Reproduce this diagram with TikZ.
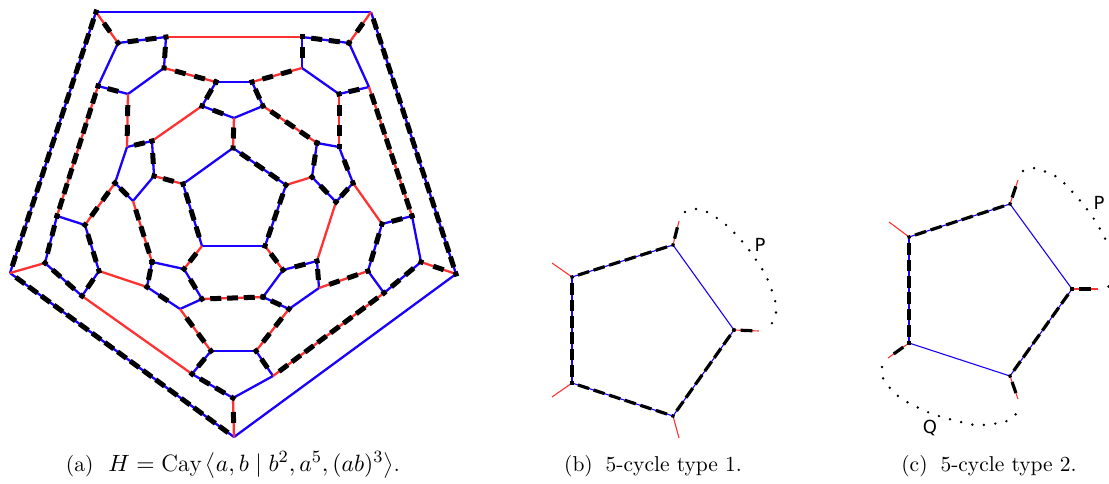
\documentclass[tikz,border=0pt]{standalone}
\usepackage{fontspec}
\usetikzlibrary{decorations}
\newfontfamily\dejavu{DejaVu Sans}
\definecolor{myblue}{RGB}{25,0,255}
\definecolor{myred}{RGB}{255,50,50}
\begin{document}
\begin{tikzpicture}[x=1pt,y=-1pt,
  bl/.style={draw=myblue,line width=2.3pt},
  rdd/.style={draw=myred,line width=2.3pt},
  hc/.style={draw=black,line width=5pt,line cap=rect,dash pattern=on 6pt off 9.5pt,dash expand off},
  thinb/.style={draw=myblue,line width=1.1pt},
  thinr/.style={draw=myred,line width=1.1pt},
  hcs/.style={draw=black,line width=3.2pt,line cap=rect,dash pattern=on 8.5pt off 7pt,dash expand off},
  hdots/.style={draw=black,line width=2.7pt,line cap=round,dash pattern=on 0pt off 11.5pt},
  lab/.style={font=\dejavu\fontsize{18}{20}\selectfont,inner sep=0pt},
  capt/.style={font=\fontsize{10}{12}\selectfont,scale=2.15,anchor=base,inner sep=0pt}]
\useasboundingbox (0,0) rectangle (1109,484);
% ---------- (a) vertices ----------
\coordinate (o1) at (96,12);   \coordinate (o2) at (371,12);
\coordinate (o3) at (456,274); \coordinate (o4) at (234,437);
\coordinate (o5) at (10,273);
\coordinate (p1a) at (118,43); \coordinate (p1b) at (166,37);
\coordinate (p1c) at (164,68); \coordinate (p1d) at (128,94);
\coordinate (p1e) at (98,86);
\coordinate (p2a) at (302,37); \coordinate (p2b) at (349,43);
\coordinate (p2c) at (369,87); \coordinate (p2d) at (339,94);
\coordinate (p2e) at (302,68);
\coordinate (ta) at (216,82);  \coordinate (tb) at (252,82);
\coordinate (tc) at (263,106); \coordinate (td) at (234,118);
\coordinate (te) at (202,106);
\coordinate (ua) at (317,143); \coordinate (ub) at (339,147);
\coordinate (uc) at (353,183); \coordinate (ud) at (336,202);
\coordinate (ue) at (312,177);
\coordinate (ca) at (233,148); \coordinate (cb) at (286,185);
\coordinate (cc) at (265,246); \coordinate (cd) at (202,246);
\coordinate (ce) at (183,184);
\coordinate (la) at (127,147); \coordinate (lb) at (152,141);
\coordinate (lc) at (154,176); \coordinate (ld) at (133,201);
\coordinate (le) at (115,183);
\coordinate (ka) at (57,216);  \coordinate (kb) at (85,225);
\coordinate (kc) at (99,271);  \coordinate (kd) at (82,296);
\coordinate (ke) at (45,263);
\coordinate (ma) at (152,262); \coordinate (mb) at (184,269);
\coordinate (mc) at (202,299); \coordinate (md) at (180,309);
\coordinate (me) at (147,287);
\coordinate (ba) at (233,398); \coordinate (bb) at (273,376);
\coordinate (bc) at (256,351); \coordinate (bd) at (211,351);
\coordinate (be) at (192,374);
\coordinate (ra) at (283,270); \coordinate (rb) at (317,261);
\coordinate (rc) at (319,288); \coordinate (rd) at (289,309);
\coordinate (re) at (263,297);
\coordinate (sa) at (382,224); \coordinate (sb) at (412,216);
\coordinate (sc) at (421,262); \coordinate (sd) at (384,293);
\coordinate (se) at (368,271);
% blue edges
\foreach \u/\v in {o1/o2,o2/o3,o3/o4,o4/o5,o5/o1,
  p1a/p1b,p1b/p1c,p1c/p1d,p1d/p1e,p1e/p1a,
  p2a/p2b,p2b/p2c,p2c/p2d,p2d/p2e,p2e/p2a,
  ta/tb,tb/tc,tc/td,td/te,te/ta,
  ua/ub,ub/uc,uc/ud,ud/ue,ue/ua,
  ca/cb,cb/cc,cc/cd,cd/ce,ce/ca,
  la/lb,lb/lc,lc/ld,ld/le,le/la,
  ka/kb,kb/kc,kc/kd,kd/ke,ke/ka,
  ma/mb,mb/mc,mc/md,md/me,me/ma,
  ba/bb,bb/bc,bc/bd,bd/be,be/ba,
  ra/rb,rb/rc,rc/rd,rd/re,re/ra,
  sa/sb,sb/sc,sc/sd,sd/se,se/sa}
  \draw[bl] (\u) -- (\v);
% red edges
\foreach \u/\v in {o1/p1a,o2/p2b,o3/sc,o4/ba,o5/ke,
  p1b/p2a,p1c/ta,p1d/la,p1e/ka,
  p2c/sb,p2d/ub,p2e/tb,
  tc/ua,td/ca,te/lb,
  uc/sa,ud/rb,ue/cb,
  cc/ra,cd/mb,ce/lc,
  ld/ma,le/kb,kc/me,kd/be,
  mc/re,md/bd,bb/sd,bc/rd,rc/se}
  \draw[rdd] (\u) -- (\v);
% dashed cycle
\foreach \u/\v in {o2/o3,o4/o5,o5/o1,o1/p1a,o2/p2b,o3/sc,o4/ba,
  p1a/p1b,p1b/p1c,p1d/p1e,p1c/ta,p1d/la,p1e/ka,
  p2a/p2b,p2c/p2d,p2e/p2a,p2c/sb,p2d/ub,p2e/tb,
  tb/tc,td/te,te/ta,tc/ua,td/ca,
  ub/uc,uc/ud,ud/ue,ue/ua,
  ca/cb,cb/cc,cd/ce,cc/ra,cd/mb,ce/lc,
  la/lb,lb/lc,ld/le,ld/ma,le/kb,
  kb/kc,kc/kd,kd/ke,ke/ka,
  mb/mc,md/me,me/ma,mc/re,md/bd,
  bb/bc,bd/be,be/ba,bb/sd,bc/rd,
  ra/rb,rb/rc,rd/re,rc/se,
  sa/sb,sc/sd,se/sa}
  \draw[hc] (\u) -- (\v);
% ---------- (b) ----------
\coordinate (v1) at (673,245); \coordinate (v2) at (572,277);
\coordinate (v3) at (572,383); \coordinate (v4) at (673,416);
\coordinate (v5) at (734,330);
\coordinate (x1) at (679,221); \coordinate (x2) at (552,263);
\coordinate (x3) at (552,397); \coordinate (x4) at (679,438);
\coordinate (x5) at (759,331);
\foreach \u/\v in {v1/v2,v2/v3,v3/v4,v4/v5,v5/v1} \draw[thinb] (\u) -- (\v);
\foreach \u/\v in {v1/x1,v2/x2,v3/x3,v4/x4,v5/x5} \draw[thinr] (\u) -- (\v);
\foreach \u/\v in {v1/v2,v2/v3,v3/v4,v4/v5,x1/v1,x5/v5} \draw[hcs] (\u) -- (\v);
\draw[hdots] plot[smooth,tension=0.6] coordinates {(685,212) (696,209) (707,212) (725,224) (741,240) (754,257) (766,276) (774,297) (776,307) (775,318) (769,327)};
\node[lab] (pb) at (760,245) {P};
% ---------- (c) ----------
\coordinate (w1) at (1010,204); \coordinate (w2) at (909,237);
\coordinate (w3) at (909,343);  \coordinate (w4) at (1010,376);
\coordinate (w5) at (1072,289);
\coordinate (y1) at (1018,180); \coordinate (y2) at (889,222);
\coordinate (y3) at (888,358);  \coordinate (y4) at (1018,399);
\coordinate (y5) at (1098,289);
\foreach \u/\v in {w1/w2,w2/w3,w3/w4,w4/w5,w5/w1} \draw[thinb] (\u) -- (\v);
\foreach \u/\v in {w1/y1,w2/y2,w3/y3,w4/y4,w5/y5} \draw[thinr] (\u) -- (\v);
\foreach \u/\v in {w1/w2,w2/w3,w4/w5,y1/w1,y3/w3,y4/w4,y5/w5} \draw[hcs] (\u) -- (\v);
\begin{scope}
\clip (0,0) rectangle (1109,484);
\draw[hdots] plot[smooth,tension=0.6] coordinates {(1023,171) (1035,168) (1046,172) (1057,177) (1066,185) (1082,203) (1096,222) (1107,242) (1122,265) (1108,287)};
\end{scope}
\draw[hdots] plot[smooth,tension=0.6] coordinates {(882,367) (883,378) (890,388) (898,396) (909,403) (930,413) (953,420) (976,425) (999,423) (1011,419) (1018,411)};
\node[lab] (pc) at (1099,203) {P};
\node[lab] (qc) at (930,428) {Q};
% ---------- captions ----------
\node[capt] (capa) at (233,471) {(a)\hspace{0.7em}{\fontsize{11}{13}\selectfont$H=\mathrm{Cay}\left\langle a,b\mid b^2,a^5,(ab)^3\right\rangle$.}};
\node[capt] (capb) at (653,471) {(b)\hspace{0.6em}5-cycle type 1.};
\node[capt] (capc) at (989,471) {(c)\hspace{0.6em}5-cycle type 2.};
\end{tikzpicture}
\end{document}
